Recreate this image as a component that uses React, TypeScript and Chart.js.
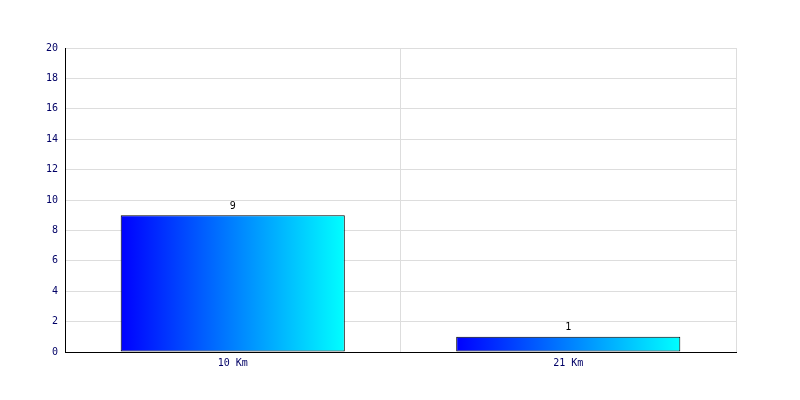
import React, { useEffect, useRef } from "react";
import { Chart, registerables } from "chart.js";

Chart.register(...registerables);

const categories = ["10 Km", "21 Km"];
const values = [9, 1];
const yMin = 0;
const yMax = 20;
const yStep = 2;

const FONT = "'DejaVu Sans Mono', monospace";

const valueLabels = {
  id: "valueLabels",
  afterDatasetsDraw(chart: any) {
    const ctx = chart.ctx;
    const meta = chart.getDatasetMeta(0);
    ctx.save();
    ctx.font = `10px ${FONT}`;
    ctx.fillStyle = "#000000";
    ctx.textAlign = "center";
    ctx.textBaseline = "bottom";
    meta.data.forEach((el: any, i: number) => {
      ctx.fillText(String(values[i]), el.x, el.y - 4);
    });
    ctx.restore();
  },
};

export default function App() {
  const ref = useRef<HTMLCanvasElement>(null);
  useEffect(() => {
    document.body.style.margin = "0";
    const barPct = 0.668;
    const chart = new Chart(ref.current!, {
      type: "bar",
      data: {
        labels: categories,
        datasets: [
          {
            data: values,
            backgroundColor: (c: any) => {
              const ch = c.chart;
              const xs = ch.scales?.x;
              if (!xs || !ch.chartArea || c.dataIndex === undefined) return "#0000ff";
              const center = xs.getPixelForValue(c.dataIndex);
              const w = ((ch.chartArea.right - ch.chartArea.left) / categories.length) * barPct;
              const g = ch.ctx.createLinearGradient(center - w / 2, 0, center + w / 2, 0);
              g.addColorStop(0, "#0000ff");
              g.addColorStop(1, "#00ffff");
              return g;
            },
            borderColor: "#000000",
            borderWidth: 1,
            borderSkipped: false,
            categoryPercentage: 1,
            barPercentage: barPct,
          },
        ],
      },
      options: {
        animation: false,
        responsive: false,
        maintainAspectRatio: false,
        layout: { padding: { top: 48, right: 64, left: 0, bottom: 0 } },
        plugins: { legend: { display: false }, tooltip: { enabled: false } },
        scales: {
          x: {
            offset: true,
            grid: { color: "#dddddd", drawTicks: false, offset: true },
            border: { color: "#000000", width: 1 },
            ticks: { color: "#000066", font: { family: FONT, size: 10 }, padding: 5 },
            afterFit: (s: any) => {
              s.height = 48;
            },
          },
          y: {
            min: yMin,
            max: yMax,
            grid: { color: "#dddddd", drawTicks: false },
            border: { color: "#000000", width: 1 },
            ticks: { stepSize: yStep, color: "#000066", font: { family: FONT, size: 10 }, padding: 7 },
            afterFit: (s: any) => {
              s.width = 65;
            },
          },
        },
      },
      plugins: [valueLabels],
    });
    return () => chart.destroy();
  }, []);
  return <canvas ref={ref} width={800} height={400} style={{ display: "block" }} />;
}
